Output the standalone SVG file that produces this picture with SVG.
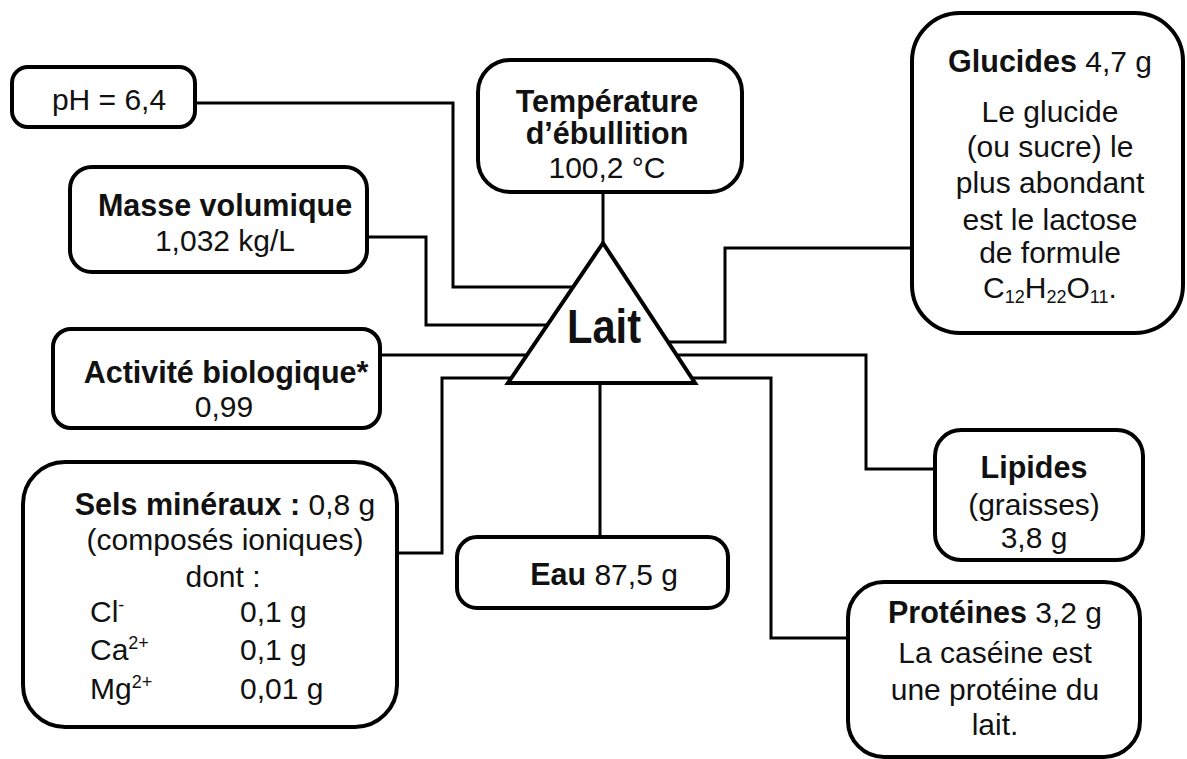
<svg xmlns="http://www.w3.org/2000/svg" width="1187" height="759" viewBox="0 0 1187 759">
<style>
.box{fill:#fff;stroke:#000;stroke-width:4}
.con{fill:none;stroke:#000;stroke-width:3}
text{font-family:"Liberation Sans",Arial,sans-serif;font-size:30px;fill:#111}
.c{text-anchor:middle}
.b{font-weight:bold;font-size:30.5px}
.sm{font-size:18px}
</style>
<rect width="1187" height="759" fill="#fff"/>
<g id="connectors">
<path class="con" d="M195,103 H453 V287 H573"/>
<path class="con" d="M367,237 H426 V325 H547"/>
<path class="con" d="M603,192 V243"/>
<path class="con" d="M912,248 H725 V342 H668"/>
<path class="con" d="M380,355 H527"/>
<path class="con" d="M677,355 H866 V469 H935"/>
<path class="con" d="M397,553 H442 V378 H511"/>
<path class="con" d="M692,378 H771 V638 H848"/>
<path class="con" d="M600,383 V537"/>
</g>
<g id="lait">
<polygon class="box" points="603,243 508,383 695,383"/>
<text x="604" y="343" class="c" style="font-size:48px;font-weight:bold" textLength="74" lengthAdjust="spacingAndGlyphs">Lait</text>
</g>
<g id="ph">
<rect class="box" x="12" y="67" width="183" height="60" rx="16"/>
<text x="109" y="110" class="c">pH = 6,4</text>
</g>
<g id="temperature">
<rect class="box" x="478" y="60" width="264" height="132" rx="32"/>
<text x="607" y="112" class="c b">Température</text>
<text x="607" y="144" class="c b">d’ébullition</text>
<text x="607" y="178" class="c">100,2 °C</text>
</g>
<g id="masse">
<rect class="box" x="70" y="167" width="297" height="105" rx="22"/>
<text x="225" y="216" class="c b">Masse volumique</text>
<text x="225" y="251" class="c">1,032 kg/L</text>
</g>
<g id="activite">
<rect class="box" x="53" y="329" width="327" height="99" rx="18"/>
<text x="226" y="383" class="c b">Activité biologique*</text>
<text x="224" y="417" class="c">0,99</text>
</g>
<g id="sels">
<rect class="box" x="23" y="462" width="374" height="265" rx="42"/>
<text x="225" y="515" class="c"><tspan class="b">Sels minéraux :</tspan> 0,8 g</text>
<text x="225" y="550" class="c">(composés ioniques)</text>
<text x="223" y="587" class="c">dont :</text>
<text x="90" y="622">Cl<tspan class="sm" dy="-11">-</tspan></text>
<text x="240" y="622">0,1 g</text>
<text x="90" y="660">Ca<tspan class="sm" dy="-11">2+</tspan></text>
<text x="240" y="660">0,1 g</text>
<text x="90" y="699">Mg<tspan class="sm" dy="-11">2+</tspan></text>
<text x="240" y="699">0,01 g</text>
</g>
<g id="eau">
<rect class="box" x="457" y="537" width="271" height="71" rx="20"/>
<text x="604" y="585" class="c"><tspan class="b">Eau</tspan> 87,5 g</text>
</g>
<g id="glucides">
<rect class="box" x="912" y="13" width="271" height="320" rx="48"/>
<text x="1050" y="72" class="c"><tspan class="b">Glucides</tspan> 4,7 g</text>
<text x="1050" y="122" class="c">Le glucide</text>
<text x="1050" y="157" class="c">(ou sucre) le</text>
<text x="1050" y="193" class="c">plus abondant</text>
<text x="1050" y="230" class="c">est le lactose</text>
<text x="1050" y="263" class="c">de formule</text>
<text x="1050" y="298" class="c">C<tspan class="sm" dy="5">12</tspan><tspan dy="-5">H</tspan><tspan class="sm" dy="5">22</tspan><tspan dy="-5">O</tspan><tspan class="sm" dy="5">11</tspan><tspan dy="-5">.</tspan></text>
</g>
<g id="lipides">
<rect class="box" x="935" y="430" width="208" height="130" rx="26"/>
<text x="1034" y="478" class="c b">Lipides</text>
<text x="1034" y="515" class="c">(graisses)</text>
<text x="1034" y="548" class="c">3,8 g</text>
</g>
<g id="proteines">
<rect class="box" x="848" y="582" width="292" height="175" rx="36"/>
<text x="995" y="623" class="c"><tspan class="b">Protéines</tspan> 3,2 g</text>
<text x="995" y="663" class="c">La caséine est</text>
<text x="995" y="700" class="c">une protéine du</text>
<text x="995" y="735" class="c">lait.</text>
</g>
</svg>
